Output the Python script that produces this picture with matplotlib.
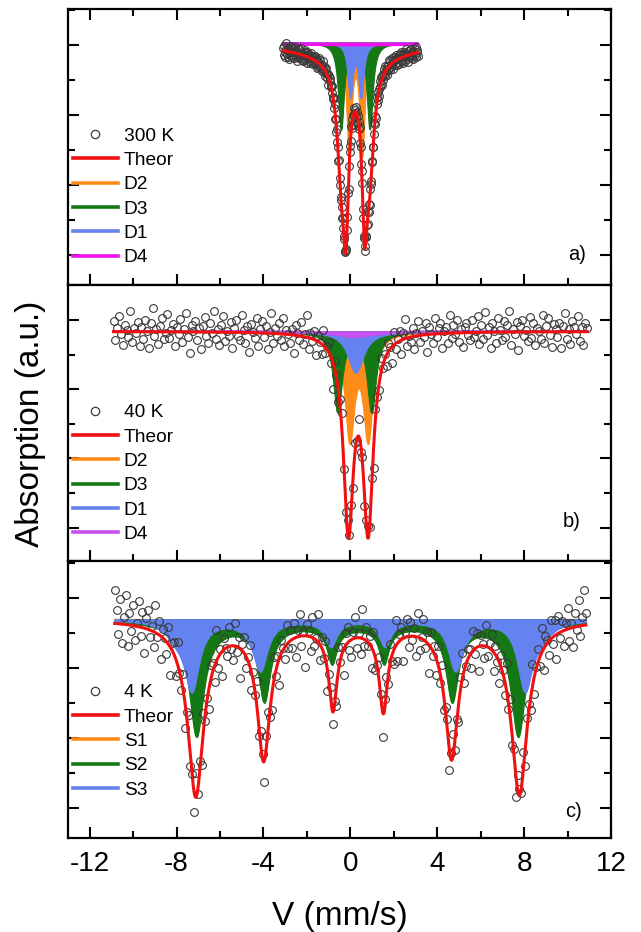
import numpy as np
import matplotlib
matplotlib.use("Agg")
import matplotlib.pyplot as plt
from matplotlib.lines import Line2D
from matplotlib.ticker import MultipleLocator

plt.rcParams['font.family'] = ['Liberation Sans', 'DejaVu Sans']
plt.rcParams['axes.unicode_minus'] = False

# ---------------- data ----------------
RED = '#f01010'
C_ORANGE = '#ff8c19'
C_GREEN = '#147814'
C_BLUE = '#6482f0'
C_MAGENTA = '#f010f0'
C_VIOLET = '#c850f0'

# panel a (300 K)
A_LABEL = '300 K'
A_VEL = [-3.1, 3.1]
A_BASE = 0.07
A_TH_POS = [-0.2, 0.65, -0.4, 0.87, 0.22]
A_TH_WID = [0.14, 0.14, 0.25, 0.25, 2.5]
A_TH_DEP = [3.4, 3.4, 3.0, 3.0, 0.5]
A_NAMES = ['D2', 'D3', 'D1', 'D4']
A_COLORS = [C_ORANGE, C_GREEN, C_BLUE, C_MAGENTA]
A_POS = [[-0.05, 0.55], [-0.42, 0.9], [0.0, 0.5], [0.25]]
A_WID = [[0.13, 0.13], [0.15, 0.15], [0.13, 0.13], [4.0]]
A_DEP = [[3.12, 3.12], [2.45, 2.45], [1.5, 1.5], [0.07]]
A_RES = [8, -12, 15, -4, -18, 6, 22, -9, 3, -15, 11, -2, -20, 14, 5, -7, 19, -13, 0, 9,
         -16, 12, -5, 17, -10, 4, -21, 7, 13, -3, -11, 16, -8, 2, 20, -14, 6, -1, -17, 10,
         -6, 18, -12, 3, 9, -19, 14, -4, 7, -9, 11, -15, 1, 16, -7, 5, -13, 8, 12, -2,
         -10, 15, -6, 4, -18, 9, 2, -11, 17, -5, 13, -8, 0, -14, 6, 19, -3, -9, 10, -16,
         7, -4, 14, -12, 3, 8, -20, 11, -1, 15, -7, 5, -10, 18, -13, 2, 9, -6, 16, -11,
         4, -15, 12, -3, 7, -8, 20, -5, 1, -17, 13, 6, -9, 10, -2, -14, 17, -7, 3, 11,
         -12, 8, -4, 15, -19, 5, 12, -1, -8, 14, -6, 9, -16, 2, 18, -10, 4, -3, 13, -11,
         7, -18, 10, 1, -5, 16, -9, 6, -13, 3, 11, -15, 8, -2, 19, -7, 0, 12, -10, 5,
         -9, 14, -3, 6, -16, 11, 2, -12, 18, -6, 9, -14, 4, 13, -8, 1, -19, 7, 15, -5,
         10, -11, 3, 17, -7, -2, 12, -15, 6, 8, -13, 16, -4, -10, 14, 0, -17, 9, 5, -8,
         19, -6, -12, 11, 2, -9, 15, -3, 7, -18, 13, 1, -11, 6, 16, -14, 4, -7, 10, -1,
         -15, 12, 8, -5, 17, -10, 3, -16, 9, 14, -2, -13, 7, 18, -9, 5, -20, 11, 1, -6,
         12, -8, 15, -4, -11, 6, 9, -17, 3, 13, -5, 16, -12, 2, 8, -10]

# panel b (40 K)
B_LABEL = '40 K'
B_VEL = [-10.9, 10.9]
B_BASE = -0.33
B_TH_POS = [-0.09, 0.82]
B_TH_WID = [0.28, 0.28]
B_TH_DEP = [5.5, 5.5]
B_NAMES = ['D2', 'D3', 'D1', 'D4']
B_COLORS = [C_ORANGE, C_GREEN, C_BLUE, C_VIOLET]
B_POS = [[-0.03, 0.82], [-0.58, 0.98], [0.25], [0.2]]
B_WID = [[0.26, 0.26], [0.24, 0.24], [0.43], [1.0]]
B_DEP = [[3.0, 3.0], [2.3, 2.3], [1.2], [0.15]]
B_RES = [30, -25, 12, 45, -8, -38, 20, 5, -15, 60, -30, 10, -5, 28, -42, 15,
         -20, 35, 2, -48, 25, 70, -12, 8, -35, 18, 40, -22, -3, 52, -18, 6,
         24, -40, 14, -6, 38, -28, 9, 55, -14, -60, 20, 3, 33, -24, 11, -50,
         16, 44, -10, -32, 27, -4, 62, -20, 8, -36, 21, 48, -26, 4, -12, 30,
         -45, 13, 36, -9, -22, 50, 7, -30, 19, -55, 26, 1, -16, 42, -38, 10,
         34, -11, 22, -46, 5, 58, -27, 15, -8, 31, -19, 47, -35, 12, 2, -24,
         18, -52, 29, 6, -13, 40, -21, 9, 65, -33, 14, -7, 25, -41, 17, 3,
         -28, 46, -15, 11, 32, -18, -80, 20, 7, -37, 23, 54, -12, -25, 39, 0,
         12, -34, 27, -5, 49, -23, 16, -44, 8, 35, -14, 21, -58, 30, 4, -19,
         43, -9, 15, -31, 24, 6, -47, 37, -16, 10, 28, -39, 18, 56, -22, 5,
         -13, 26, -36, 9, 41, -20, 13, -6, 33, -51, 22, 2, -27, 45, -10, 17,
         31, -43, 8, 19, -29, 52, -14, 24, -3, 38, -25, 11, -40, 16, 29, -8,
         -21, 36, -12, 4, 47, -33, 21, -18, 59, -9, 14, -46, 27, 3, -30, 40,
         7, -24, 33, -15, 20, 62, -37, 10, -5, 28, -53, 18, 35, -11, 6, -26,
         44, -17, 25, -39, 12, 3, -22, 50, -31, 16, 39, -8, -44, 22, 9, -14,
         26, -48, 18, 55, -20, 7, -34, 30, 13, -6, 46, -28, 15, -38, 24, 10]

# panel c (4 K)
C_LABEL = '4 K'
C_VEL = [-10.85, 10.85]
C_BASE = -0.6
C_TH_POS = [-7.12, -3.99, -0.80, 1.52, 4.66, 7.78, -7.12, -3.99, -0.80, 1.52, 4.66, 7.78]
C_TH_WID = [0.40, 0.33, 0.22, 0.22, 0.33, 0.40, 0.8, 0.8, 0.8, 0.8, 0.8, 0.8]
C_TH_DEP = [4.0, 3.2, 2.05, 2.1, 3.15, 3.95, 1.0, 0.7, 0.4, 0.4, 0.7, 1.0]
C_NAMES = ['S1', 'S2', 'S3']
C_COLORS = [C_ORANGE, C_GREEN, C_BLUE]
C_POS = [[-6.35, -3.55, -0.75, 1.45, 4.25, 6.96],
         [-7.08, -3.96, -0.84, 1.55, 4.69, 7.73, -7.08, -3.96, -0.84, 1.55, 4.69, 7.73],
         [-7.29, -4.13, -0.89, 1.59, 4.83, 8.04, -8.0, -4.5, -1.0, 1.7, 5.2, 8.75]]
C_WID = [[0.18, 0.18, 0.18, 0.18, 0.18, 0.18],
         [0.38, 0.32, 0.25, 0.25, 0.32, 0.38, 1.2, 1.2, 1.2, 1.2, 1.2, 1.2],
         [0.4, 0.38, 0.3, 0.3, 0.38, 0.4, 0.6, 0.6, 0.6, 0.6, 0.6, 0.6]]
C_DEP = [[1.0, 0.6, 0.3, 0.3, 0.6, 0.9],
         [2.95, 2.0, 0.95, 0.95, 2.0, 2.95, 0.35, 0.25, 0.2, 0.2, 0.25, 0.35],
         [1.9, 1.3, 0.65, 0.65, 1.3, 1.9, 0.4, 0.2, 0.1, 0.1, 0.2, 0.4]]
C_RES = [95, 40, -30, 70, -55, 20, 85, -60, 35, -15, 60, -40, 10, 75, -25, 45,
         -70, 30, 55, -20, 15, -45, 80, -10, 40, -65, 25, 5, -35, 50, -80, 20,
         35, -50, 65, -5, -30, 45, -75, 15, 60, -25, 10, -55, 70, -15, 30, -40,
         50, -20, 5, -60, 40, 25, -45, 90, -30, 15, -70, 35, 0, -25, 55, -10,
         -40, 65, -15, 30, -85, 20, 45, -35, 10, 60, -50, 25, -5, 75, -30, 40,
         15, -60, 35, 50, -20, -45, 70, -10, 25, -75, 40, 5, -35, 55, -15, 30,
         -25, 45, -55, 20, 65, -30, 10, -90, 35, 15, -40, 60, -20, 5, 80, -45,
         30, -15, 50, -65, 25, 40, -35, 10, -55, 70, -5, 20, -75, 35, 45, -25,
         -50, 20, 60, -30, 15, -45, 85, -20, 40, -10, 25, -60, 55, -35, 5, 65,
         10, -70, 30, 45, -25, 55, -15, -40, 75, -50, 20, 35, -65, 15, 50, -30,
         40, -10, 25, -55, 70, -35, 5, 60, -20, 30, -80, 45, -15, 25, -45, 55,
         -30, 50, -40, 15, 35, -60, 20, 65, -25, 10, -50, 40, 75, -35, -5, 30,
         20, -45, 55, -15, 40, -70, 30, 5, -35, 60, -25, 15, 45, -55, 25, -10,
         -60, 35, 10, -40, 80, -20, 50, -30, 15, -65, 45, 20, -15, 55, -45, 35,
         25, -35, 65, -50, 5, 40, -25, 70, -60, 30, 10, -40, 55, -20, 45, -70,
         50, -15, 30, -45, 20, 60, -35, 15, -55, 40, -10, 75, -30, 25, 100, 35]

X_TICKS = [-12, -8, -4, 0, 4, 8, 12]
X_LABEL = 'V (mm/s)'
Y_LABEL = 'Absorption (a.u.)'


def lor(v, pos, wid, dep):
    out = np.zeros_like(v)
    for p, w, d in zip(pos, wid, dep):
        out += d / (1.0 + ((v - p) / w) ** 2)
    return out


# ---------------- figure ----------------
fig = plt.figure(figsize=(6.41, 9.32), dpi=100)
L, W = 68 / 641, (611 - 68) / 641
rects = [[L, 1 - 285 / 932, W, (285 - 9.3) / 932],
         [L, 1 - 561 / 932, W, (561 - 285) / 932],
         [L, 1 - 838.3 / 932, W, (838.3 - 561) / 932]]
ylims = [(-6.857, 1.02), (-6.965, 1.012), (-6.877, 1.069)]
tags = ['a)', 'b)', 'c)']
tag_xy = [(0.937, 0.109), (0.928, 0.142), (0.931, 0.096)]
leg_y = [0.5715, 0.569, 0.557]

panels = [
    (A_LABEL, A_VEL, A_BASE, A_TH_POS, A_TH_WID, A_TH_DEP, A_NAMES, A_COLORS, A_POS, A_WID, A_DEP, A_RES),
    (B_LABEL, B_VEL, B_BASE, B_TH_POS, B_TH_WID, B_TH_DEP, B_NAMES, B_COLORS, B_POS, B_WID, B_DEP, B_RES),
    (C_LABEL, C_VEL, C_BASE, C_TH_POS, C_TH_WID, C_TH_DEP, C_NAMES, C_COLORS, C_POS, C_WID, C_DEP, C_RES),
]

for i, (lab, vel, base, tpos, twid, tdep, names, cols, cpos, cwid, cdep, res) in enumerate(panels):
    ax = fig.add_axes(rects[i])
    vf = np.linspace(vel[0], vel[1], 1500)
    for k, (nm, col, p, w, d) in enumerate(zip(names, cols, cpos, cwid, cdep)):
        curve = base - lor(vf, p, w, d)
        ax.fill_between(vf, base, curve, facecolor=col, edgecolor=col, lw=0.8, zorder=1 + k)
        ax.plot(vf, curve, color=col, lw=2.2 if nm == 'D4' else 0.8, zorder=1 + k)
    v = np.linspace(vel[0], vel[1], len(res))
    y = base - lor(v, tpos, twid, tdep) + np.array(res) * 0.01
    ax.plot(v, y, ls='none', marker='o', mfc='none', mec='#3a3a3a', ms=5.6, mew=0.8, zorder=8)
    ax.plot(vf, base - lor(vf, tpos, twid, tdep), color=RED, lw=2.2, zorder=9)

    ax.set_xlim(-13, 12)
    ax.set_ylim(*ylims[i])
    ax.xaxis.set_major_locator(MultipleLocator(4))
    ax.xaxis.set_minor_locator(MultipleLocator(2))
    ax.yaxis.set_major_locator(MultipleLocator(2))
    ax.yaxis.set_minor_locator(MultipleLocator(1))
    ax.tick_params(which='both', direction='in', left=True, right=True, bottom=True,
                   top=(i == 0), labelleft=False, labelbottom=(i == 2), width=1.5)
    ax.tick_params(which='major', length=8)
    ax.tick_params(which='minor', length=5)
    ax.tick_params(axis='x', labelsize=20, pad=9)
    for s in ax.spines.values():
        s.set_linewidth(1.6)
    if i == 2:
        ax.set_xticks(X_TICKS)
        ax.set_xticklabels([str(t) for t in X_TICKS])

    handles = [Line2D([], [], ls='none', marker='o', mfc='none', mec='#3a3a3a', ms=6, mew=0.9),
               Line2D([], [], color=RED, lw=2.6)]
    handles += [Line2D([], [], color=c, lw=2.6) for c in cols]
    ax.legend(handles, [lab, 'Theor'] + names, loc='upper left', bbox_to_anchor=(0.009, leg_y[i]),
              frameon=False, fontsize=13.8, handlelength=2.35, handletextpad=0.3,
              labelspacing=0.36, borderpad=0, borderaxespad=0)
    ax.text(tag_xy[i][0], tag_xy[i][1], tags[i], transform=ax.transAxes, fontsize=14.5,
            ha='center', va='center')

fig.text(0.5296, 0.0165, X_LABEL, ha='center', va='center', fontsize=24)
fig.text(0.048, 0.5455, Y_LABEL, ha='center', va='center', rotation=90, fontsize=24)

fig.savefig('out.png', dpi=100)
